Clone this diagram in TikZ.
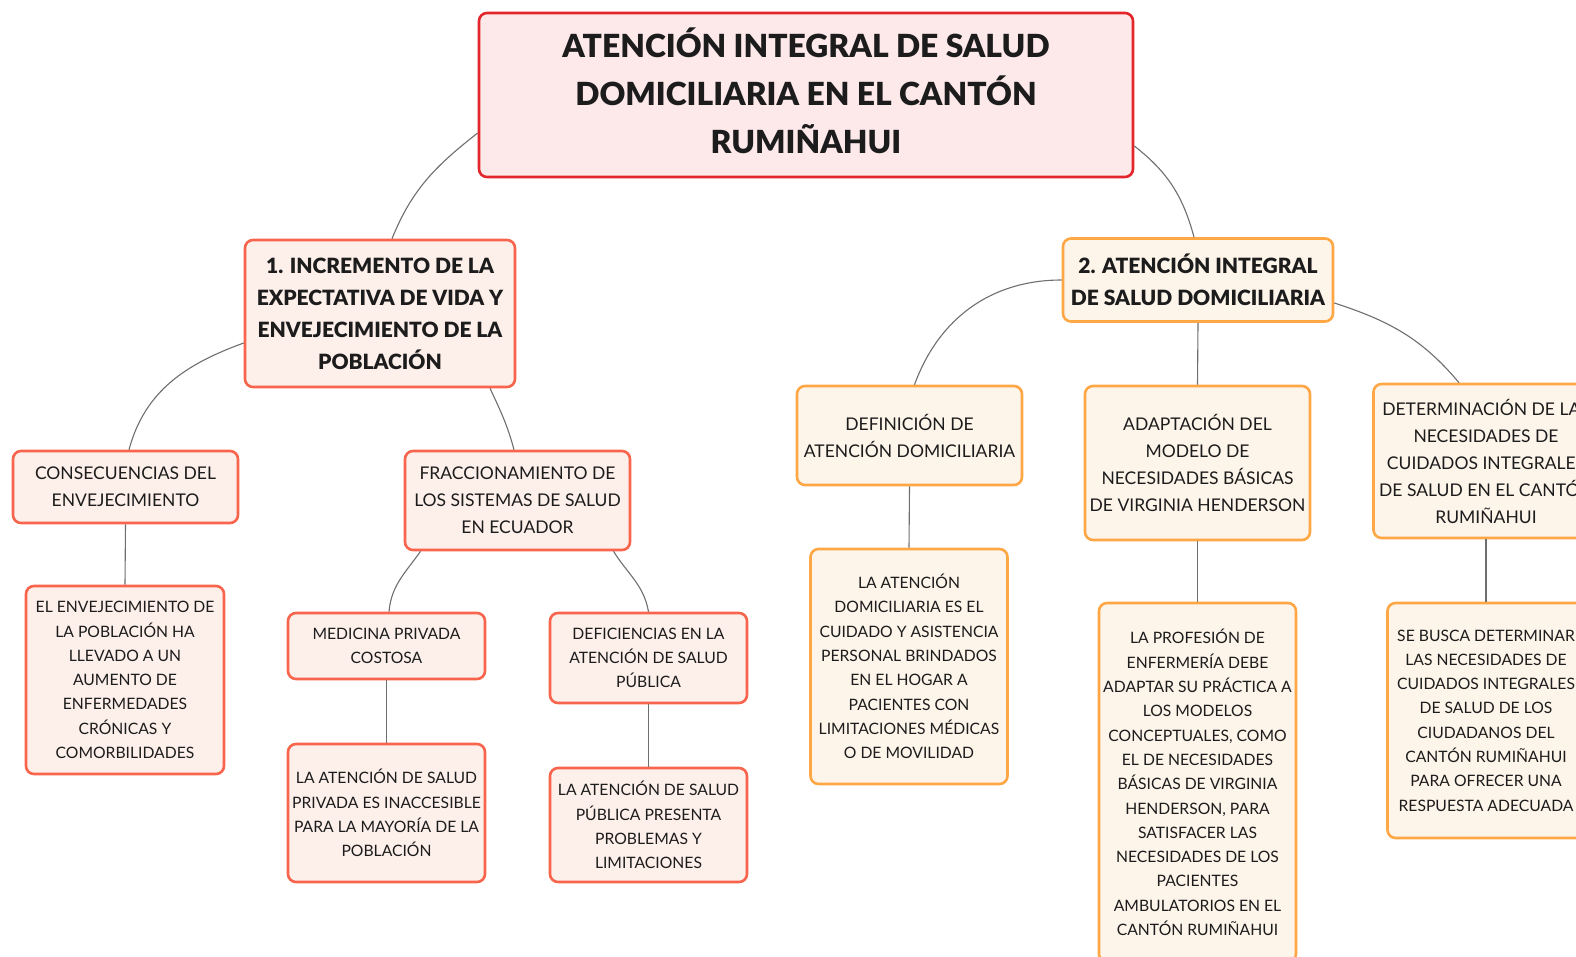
\documentclass[tikz,border=0pt]{standalone}
\usepackage{fontspec}
\setmainfont{Lato}
\newfontfamily\heavyfont{Lato Black}
\definecolor{ink}{HTML}{1C1C1C}
\definecolor{rootred}{HTML}{E2262B}
\definecolor{rootfill}{HTML}{FDE8EA}
\definecolor{coral}{HTML}{F8644C}
\definecolor{coralfill}{HTML}{FDEFEA}
\definecolor{amber}{HTML}{FFA645}
\definecolor{amberfill}{HTML}{FDF4EA}
\definecolor{linkgray}{HTML}{6E6E6E}

\begin{document}
\begin{tikzpicture}[x=1pt,y=-1pt,
		box/.style={draw,rounded corners=8pt,line width=2.6pt,align=center,text=ink,inner ysep=0pt,inner xsep=-4pt,font=\fontsize{17.5}{27}\selectfont},
		leaf/.style={font=\fontsize{15.7}{24.3}\selectfont},
		redbox/.style={box,draw=coral,fill=coralfill},
		orangebox/.style={box,draw=amber,fill=amberfill},
		title/.style={font=\heavyfont\fontsize{21}{32}\selectfont},
		link/.style={draw=linkgray,line width=1.1pt}]
			\useasboundingbox (0,0) rectangle (1576,957);
			\clip (0,0) rectangle (1576,957);
			\node[box,draw=rootred,fill=rootfill,minimum width=654,minimum height=164] (root) at (806,95) {};
			\node[align=center,text=ink,font=\heavyfont\fontsize{31.8}{48}\selectfont] (roottitle) at (806,91) {ATENCIÓN INTEGRAL DE SALUD\\DOMICILIARIA EN EL CANTÓN\\RUMIÑAHUI};
			\node[redbox,title,minimum width=270,minimum height=147] (incremento) at (380,313.5) {1. INCREMENTO DE LA\\EXPECTATIVA DE VIDA Y\\ENVEJECIMIENTO DE LA\\POBLACIÓN};
			\node[orangebox,title,minimum width=270,minimum height=83] (atencion) at (1198,280) {2. ATENCIÓN INTEGRAL\\DE SALUD DOMICILIARIA};
			\node[redbox,minimum width=225,minimum height=72] (consec) at (125.5,487) {CONSECUENCIAS DEL\\ENVEJECIMIENTO};
			\node[redbox,leaf,minimum width=198,minimum height=188] (envej) at (125,680) {EL ENVEJECIMIENTO DE\\LA POBLACIÓN HA\\LLEVADO A UN\\AUMENTO DE\\ENFERMEDADES\\CRÓNICAS Y\\COMORBILIDADES};
			\node[redbox,minimum width=225,minimum height=99] (fracc) at (517.5,500.5) {FRACCIONAMIENTO DE\\LOS SISTEMAS DE SALUD\\EN ECUADOR};
			\node[redbox,leaf,minimum width=197,minimum height=66] (privada) at (386.5,646) {MEDICINA PRIVADA\\COSTOSA};
			\node[redbox,leaf,minimum width=197,minimum height=138] (inaccesible) at (386.5,813) {LA ATENCIÓN DE SALUD\\PRIVADA ES INACCESIBLE\\PARA LA MAYORÍA DE LA\\POBLACIÓN};
			\node[redbox,leaf,minimum width=197,minimum height=90] (deficiencias) at (648.5,658) {DEFICIENCIAS EN LA\\ATENCIÓN DE SALUD\\PÚBLICA};
			\node[redbox,leaf,minimum width=197,minimum height=114] (publica) at (648.5,825) {LA ATENCIÓN DE SALUD\\PÚBLICA PRESENTA\\PROBLEMAS Y\\LIMITACIONES};
			\node[orangebox,minimum width=225,minimum height=99] (definicion) at (909.5,435.5) {DEFINICIÓN DE\\ATENCIÓN DOMICILIARIA};
			\node[orangebox,leaf,minimum width=197,minimum height=235] (domicilio) at (909,666.5) {LA ATENCIÓN\\DOMICILIARIA ES EL\\CUIDADO Y ASISTENCIA\\PERSONAL BRINDADOS\\EN EL HOGAR A\\PACIENTES CON\\LIMITACIONES MÉDICAS\\O DE MOVILIDAD};
			\node[orangebox,minimum width=225,minimum height=154] (adaptacion) at (1197.5,463) {ADAPTACIÓN DEL\\MODELO DE\\NECESIDADES BÁSICAS\\DE VIRGINIA HENDERSON};
			\node[orangebox,leaf,minimum width=197,minimum height=359] (profesion) at (1197.5,782.5) {LA PROFESIÓN DE\\ENFERMERÍA DEBE\\ADAPTAR SU PRÁCTICA A\\LOS MODELOS\\CONCEPTUALES, COMO\\EL DE NECESIDADES\\BÁSICAS DE VIRGINIA\\HENDERSON, PARA\\SATISFACER LAS\\NECESIDADES DE LOS\\PACIENTES\\AMBULATORIOS EN EL\\CANTÓN RUMIÑAHUI};
			\node[orangebox,minimum width=225,minimum height=154] (determinacion) at (1486,461) {DETERMINACIÓN DE LAS\\NECESIDADES DE\\CUIDADOS INTEGRALES\\DE SALUD EN EL CANTÓN\\RUMIÑAHUI};
			\node[orangebox,leaf,minimum width=197,minimum height=235] (busca) at (1486,720.5) {SE BUSCA DETERMINAR\\LAS NECESIDADES DE\\CUIDADOS INTEGRALES\\DE SALUD DE LOS\\CIUDADANOS DEL\\CANTÓN RUMIÑAHUI\\PARA OFRECER UNA\\RESPUESTA ADECUADA};
			\draw[link] ([yshift=-38]root.west) to[out=218,in=68] ([xshift=12]incremento.north);
			\draw[link] ([yshift=-51]root.east) to[out=-38,in=105] ([xshift=-4]atencion.north);
			\draw[link] ([yshift=-29.5]incremento.west) to[out=200,in=75] ([xshift=3.5]consec.north);
			\draw[link] ([xshift=110]incremento.south) to[out=-65,in=105] ([xshift=-3.5]fracc.north);
			\draw[link] ([xshift=-97]fracc.south) to[out=235,in=85] ([xshift=2.5]privada.north);
			\draw[link] ([xshift=96]fracc.south) to[out=-58,in=100] (deficiencias.north);
			\draw[link] (atencion.west) to[out=180,in=70] ([xshift=5]definicion.north);
			\draw[link] ([yshift=-23]atencion.east) to[out=-18,in=130] ([xshift=-27]determinacion.north);
			\foreach \a/\b in {consec/envej,privada/inaccesible,deficiencias/publica,definicion/domicilio,atencion/adaptacion,adaptacion/profesion,determinacion/busca} \draw[link] (\a.south) -- (\b.north);
		\end{tikzpicture}
\end{document}
